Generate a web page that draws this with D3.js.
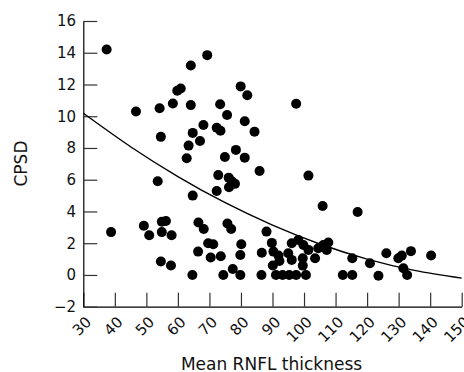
<!DOCTYPE html>
<html>
<head>
<meta charset="utf-8">
<script src="https://cdn.jsdelivr.net/npm/d3@7"></script>
<style>
html,body{margin:0;padding:0;background:#fff;}
svg{display:block;}
</style>
</head>
<body>
<svg id="chart" width="464" height="372"></svg>
<script>
// ---- data ----
const thickness = [
  37.4, 38.8, 46.7, 49.2, 50.9, 53.6, 54.2, 54.6, 54.9, 56.2,
  54.9, 58.0, 54.6, 57.8, 58.4, 59.8, 60.9, 64.1, 64.1, 64.7,
  63.4, 62.8, 64.7, 64.6, 66.4, 66.5, 68.2, 67.0, 68.1, 69.3,
  69.6, 71.2, 70.4, 73.6, 72.3, 73.5, 73.4, 75.6, 72.8, 72.3,
  74.9, 78.4, 81.2, 81.2, 84.3, 79.9, 82.0, 76.1, 77.1, 78.1,
  76.2, 75.7, 76.9, 74.4, 77.4, 79.8, 79.8, 80.1, 85.9, 88.1,
  86.6, 86.5, 89.8, 90.3, 91.9, 95.0, 92.2, 90.1, 96.1, 96.1,
  98.2, 99.8, 101.4, 99.6, 99.6, 103.5, 104.5, 106.1, 107.2, 91.1,
  93.2, 95.3, 97.5, 100.6, 101.4, 97.5, 105.9, 117.0, 107.7, 115.3,
  120.9, 126.1, 129.9, 131.0, 133.9, 140.3, 131.5, 112.3, 115.3, 123.6,
  132.7
];
const cpsd = [
  14.2, 2.7, 10.3, 3.1, 2.5, 5.9, 10.5, 8.7, 3.35, 3.4,
  2.7, 2.5, 0.85, 0.6, 10.8, 11.6, 11.75, 13.2, 10.7, 8.95,
  8.15, 7.35, 5.0, 0.0, 1.47, 3.3, 2.9, 8.44, 9.45, 13.85,
  2.0, 1.93, 1.1, 1.18, 9.28, 9.08, 10.75, 10.08, 6.29, 5.29,
  7.43, 7.88, 7.39, 9.68, 9.03, 11.88, 11.32, 6.13, 5.9, 5.74,
  5.53, 3.24, 2.89, 0.0, 0.38, 0.0, 1.26, 1.93, 6.55, 2.73,
  1.4, 0.0, 2.02, 1.47, 1.22, 1.37, 0.88, 0.6, 0.95, 2.0,
  2.2, 1.89, 1.58, 1.05, 0.59, 1.05, 1.68, 1.89, 1.58, 0.0,
  0.0, 0.0, 0.0, 0.0, 6.26, 10.79, 4.35, 3.97, 2.04, 1.05,
  0.74, 1.37, 1.05, 1.22, 1.5, 1.23, 0.42, 0.0, 0.0, -0.05,
  0.0
];
// fitted trend curve
const fitX = [30, 45, 60, 75, 90, 105, 120, 135, 150];
const fitY = [10.19, 8.08, 6.2, 4.55, 3.14, 1.95, 1.0, 0.29, -0.2];

const xTicks = [30, 40, 50, 60, 70, 80, 90, 100, 110, 120, 130, 140, 150];
const yTicks = [-2, 0, 2, 4, 6, 8, 10, 12, 14, 16];
const xTitle = "Mean RNFL thickness";
const yTitle = "CPSD";

// ---- drawing ----
const svg = d3.select("#chart");
const x = d3.scaleLinear().domain([30, 150]).range([83.3, 461.7]);
const y = d3.scaleLinear().domain([-2, 16]).range([306.7, 21]);
const font = "'DejaVu Sans', sans-serif";

// x axis
const gx = svg.append("g")
  .attr("transform", `translate(0,${y(-2)})`)
  .call(d3.axisBottom(x).tickValues(xTicks).tickSizeInner(-14).tickSizeOuter(0).tickFormat(d3.format("d")));
gx.selectAll("text")
  .attr("x", 0).attr("y", 0).attr("dy", 0)
  .attr("text-anchor", "end")
  .attr("transform", "translate(8.4,16.3) rotate(-45)");

// y axis
const gy = svg.append("g")
  .attr("transform", `translate(${x(30)},0)`)
  .call(d3.axisLeft(y).tickValues(yTicks).tickSizeInner(-14).tickSizeOuter(0)
    .tickFormat(d => d < 0 ? "\u2212" + Math.abs(d) : d));
gy.selectAll("text").attr("x", -7.3);

svg.selectAll(".domain").attr("stroke", "#000").attr("stroke-width", 1.2);
svg.selectAll(".tick line").attr("stroke", "#333").attr("stroke-width", 1.2);
svg.selectAll(".tick text")
  .attr("fill", "#111")
  .style("font-family", font)
  .style("font-size", "15px");

// trend curve
const pts = fitX.map((d, i) => [d, fitY[i]]);
svg.append("path")
  .datum(pts)
  .attr("fill", "none")
  .attr("stroke", "#000")
  .attr("stroke-width", 1.4)
  .attr("d", d3.line().x(d => x(d[0])).y(d => y(d[1])).curve(d3.curveNatural));

// points
svg.append("g").selectAll("circle")
  .data(thickness.map((d, i) => [d, cpsd[i]]))
  .join("circle")
  .attr("cx", d => x(d[0]))
  .attr("cy", d => y(d[1]))
  .attr("r", 5)
  .attr("fill", "#000");

// titles
svg.append("text")
  .attr("x", 271.5).attr("y", 370)
  .attr("text-anchor", "middle")
  .style("font-family", font).style("font-size", "17px").attr("fill", "#111")
  .text(xTitle);
svg.append("text")
  .attr("transform", "translate(26.5,163.5) rotate(-90)")
  .attr("text-anchor", "middle")
  .style("font-family", font).style("font-size", "17px").attr("fill", "#111")
  .text(yTitle);
</script>
</body>
</html>
